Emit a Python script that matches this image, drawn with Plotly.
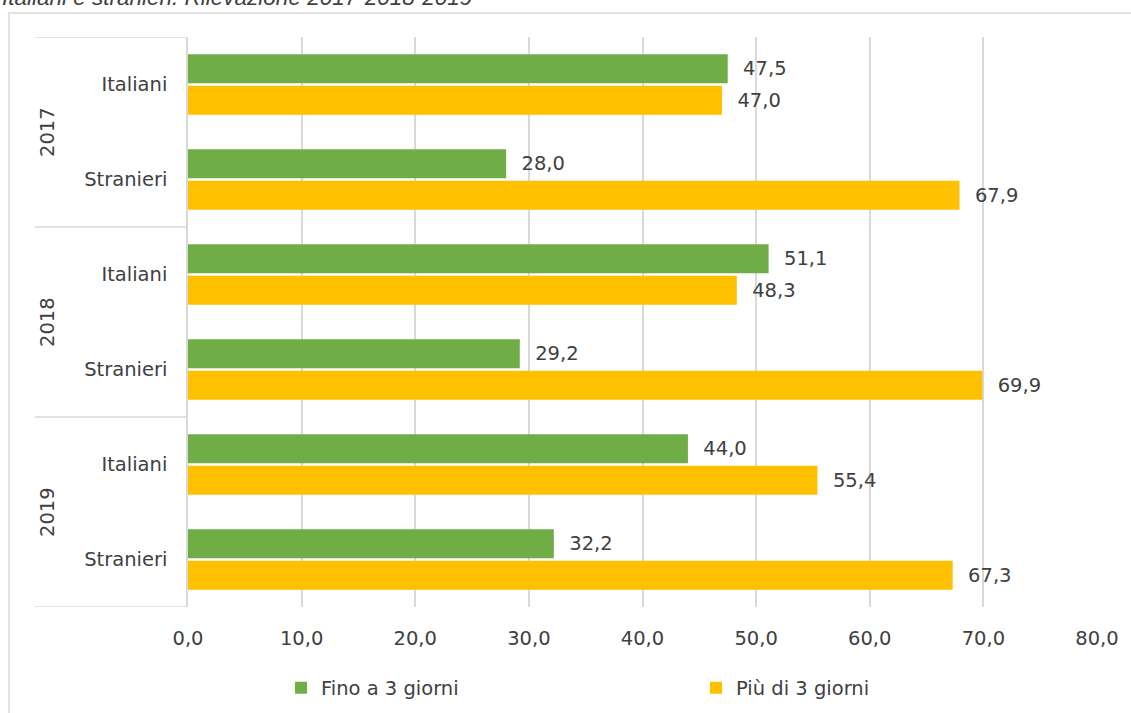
import plotly.graph_objects as go

years = ["2017", "2017", "2018", "2018", "2019", "2019"]
groups = ["Italiani", "Stranieri", "Italiani", "Stranieri", "Italiani", "Stranieri"]
fino3 = [47.5, 28.0, 51.1, 29.2, 44.0, 32.2]
piu3 = [47.0, 67.9, 48.3, 69.9, 55.4, 67.3]
series_names = ["Fino a 3 giorni", "Più di 3 giorni"]
colors = ["#70AD47", "#FFC000"]
x_ticks = [0, 10, 20, 30, 40, 50, 60, 70, 80]
year_labels = ["2017", "2018", "2019"]
title_text = "Italiani e stranieri. Rilevazione 2017-2018-2019"

cats = [f"{y} {g}" for y, g in zip(years, groups)]
FONT = "DejaVu Sans"
FS = 19.5
TXT = "#404040"
GRID = "#d9d9d9"

fig = go.Figure()
for name, vals, col in zip(series_names, [fino3, piu3], colors):
    fig.add_trace(go.Bar(
        y=cats, x=vals, name=name, orientation="h",
        marker=dict(color=col, line=dict(width=0)),
        text=vals, texttemplate="\u00a0\u00a0%{x:.1f}", textposition="outside",
        cliponaxis=False,
        textfont=dict(family=FONT, size=FS, color=TXT),
    ))

L, R, T, B = 188, 34, 37, 106
W, H = 1131, 713
pw, ph = W - L - R, H - T - B

shapes = []
# outer border
shapes.append(dict(type="rect", xref="paper", yref="paper",
                   x0=(9 - L) / pw, x1=(1140 - L) / pw,
                   y0=(H - B - 730) / ph, y1=1 + (T - 13) / ph,
                   line=dict(color=GRID, width=1.5), fillcolor="rgba(0,0,0,0)", layer="below"))
# group separators
for yb in [-0.5, 1.5, 3.5, 5.5]:
    shapes.append(dict(type="line", xref="paper", yref="y",
                       x0=(35 - L) / pw, x1=0, y0=yb, y1=yb,
                       line=dict(color=GRID, width=1.5)))

annotations = []
for i, yl in enumerate(year_labels):
    annotations.append(dict(text=yl, xref="paper", yref="y", x=(47 - L) / pw,
                            y=2 * i + 0.5, showarrow=False, textangle=-90,
                            font=dict(family=FONT, size=FS, color=TXT),
                            xanchor="center", yanchor="middle"))
annotations.append(dict(text=title_text, xref="paper", yref="paper",
                        x=(0 - L) / pw, y=1 + (T + 3) / ph, xanchor="left", yanchor="middle",
                        showarrow=False,
                        font=dict(family="Liberation Sans", size=22.5, color="#404040", style="italic")))

fig.update_layout(
    width=W, height=H,
    margin=dict(l=L, r=R, t=T, b=B, autoexpand=False),
    paper_bgcolor="white", plot_bgcolor="white",
    barmode="group", bargap=0.337, bargroupgap=0.08,
    separators=",.",
    font=dict(family=FONT, size=FS, color=TXT),
    shapes=shapes, annotations=annotations,
    showlegend=True,
    legend=dict(orientation="h", x=(281 - L) / pw, y=(H - B - 688) / ph,
                xanchor="left", yanchor="middle",
                entrywidth=370, entrywidthmode="pixels",
                font=dict(family=FONT, size=FS, color=TXT), traceorder="normal"),
    xaxis=dict(range=[0, 80], tickvals=x_ticks, tickformat=".1f",
               showgrid=True, gridcolor=GRID, gridwidth=1.5, zeroline=False,
               showline=False, ticks="", ticklabelstandoff=17, automargin=False,
               tickfont=dict(family=FONT, size=FS, color=TXT), fixedrange=True),
    yaxis=dict(type="category", categoryorder="array", categoryarray=cats,
               autorange=False, range=[5.5, -0.5], automargin=False,
               tickvals=cats, ticktext=groups, showgrid=False, zeroline=False,
               showline=True, linecolor=GRID, linewidth=1.5, ticks="",
               ticklabelstandoff=15,
               tickfont=dict(family=FONT, size=FS, color=TXT)),
)

fig.write_html("out.html", config={"displayModeBar": False},
               post_script="document.body.style.margin='0';document.body.style.overflow='hidden';")
